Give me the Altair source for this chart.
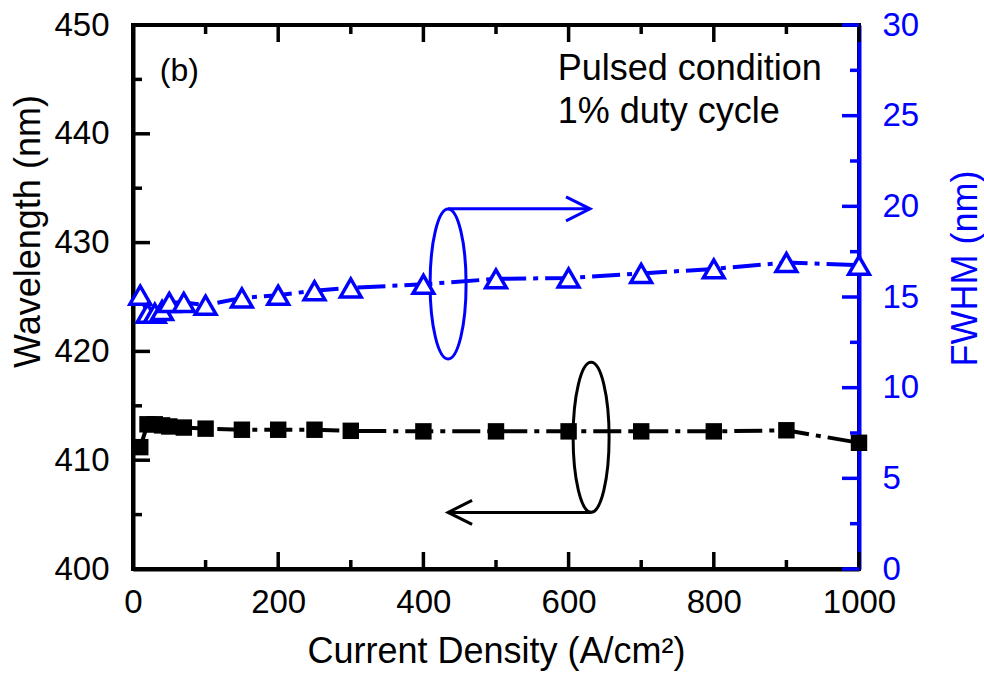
import altair as alt
import pandas as pd

# ---------------- data ----------------
current = [10, 20, 30, 40, 50, 70, 100, 150, 200, 250, 300, 400, 500, 600, 700, 800, 900, 1000]
wavelength = [411.2, 413.3, 413.3, 413.2, 413.1, 413.0, 412.9, 412.8, 412.8, 412.8, 412.7,
              412.65, 412.65, 412.65, 412.65, 412.65, 412.75, 411.6]
fwhm = [15.1, 14.1, 14.1, 14.25, 14.7, 14.7, 14.55, 14.95, 15.1, 15.35, 15.5,
        15.7, 16.0, 16.05, 16.3, 16.55, 16.9, 16.75]

x_major = [0, 200, 400, 600, 800, 1000]
x_minor = [100, 300, 500, 700, 900]
wl_major = [400, 410, 420, 430, 440, 450]
wl_minor = [405, 415, 425, 435, 445]
fw_major = [0, 5, 10, 15, 20, 25, 30]
fw_minor = [2.5, 7.5, 12.5, 17.5, 22.5, 27.5]

note_text = ["(b)", "Pulsed condition", "1% duty cycle"]
note_x = [37, 585, 585]
note_y = [444.85, 444.95, 441.0]
note_size = [32, 36, 36]

ellipse_x = [434, 631]
ellipse_y = [426.2, 412.1]
ellipse_color = ["#0000ff", "#000000"]

arrow_x = [434, 631]
arrow_x2 = [629.5, 434]
arrow_y = [433.1, 405.2]
arrow_color = ["#0000ff", "#000000"]

# ---------------- layout ----------------
W, H = 726, 544
BLUE = "#0000ff"
FONT = "Liberation Sans"
LBL = 33
TTL = 36

xs = alt.Scale(domain=[0, 1000], nice=False, zero=False)
ls = alt.Scale(domain=[400, 450], nice=False, zero=False)
rs = alt.Scale(domain=[0, 30], nice=False, zero=False)

main = pd.DataFrame({"j": current, "wl": wavelength, "fw": fwhm})

x_axis = alt.Axis(title="Current Density (A/cm²)", values=x_major, ticks=False, format="d",
                  domainColor="black", domainWidth=4, labelFontSize=LBL, labelColor="black",
                  labelPadding=17, titleFontSize=TTL, titleFontWeight="normal", titleColor="black",
                  titleX=W / 2, titleY=93, titleBaseline="alphabetic", titleAlign="center",
                  labelFlush=False, grid=False, labelFont=FONT, titleFont=FONT)
left_axis = alt.Axis(title="Wavelength (nm)", values=wl_major, ticks=False, orient="left",
                     domainColor="black", domainWidth=4, labelFontSize=LBL, labelColor="black",
                     labelPadding=24, titleFontSize=TTL, titleFontWeight="normal", titleColor="black",
                     titleAngle=-90, titleX=-94, titleY=206, titleBaseline="alphabetic",
                     titleAlign="center", grid=False, labelFont=FONT, titleFont=FONT)
right_axis = alt.Axis(title="FWHM (nm)", values=fw_major, ticks=False, orient="right",
                      domainColor=BLUE, domainWidth=4, labelFontSize=LBL, labelColor=BLUE,
                      labelPadding=23, titleFontSize=TTL, titleFontWeight="normal", titleColor=BLUE,
                      titleAngle=-90, titleX=117, titleY=243, titleBaseline="alphabetic",
                      titleAlign="center", grid=False, labelFont=FONT, titleFont=FONT)

base = alt.Chart(main)

black_line = base.mark_line(color="black", strokeWidth=4, strokeDash=[28, 7, 5, 7]).encode(
    x=alt.X("j:Q", scale=xs, axis=x_axis),
    y=alt.Y("wl:Q", scale=ls, axis=left_axis),
)
black_pts = base.mark_point(shape="square", filled=True, color="black", size=270, opacity=1).encode(
    x=alt.X("j:Q", scale=xs, axis=x_axis),
    y=alt.Y("wl:Q", scale=ls, axis=left_axis),
)

blue_line = base.mark_line(color=BLUE, strokeWidth=4, strokeDash=[28, 7, 5, 7]).encode(
    x=alt.X("j:Q", scale=xs, axis=x_axis),
    y=alt.Y("fw:Q", scale=rs, axis=right_axis),
)
blue_pts = base.mark_point(shape="triangle-up", filled=True, fill="white", stroke=BLUE,
                           strokeWidth=3.5, size=430, opacity=1).encode(
    x=alt.X("j:Q", scale=xs, axis=x_axis),
    y=alt.Y("fw:Q", scale=rs, axis=right_axis),
)


def yticks(vals, scale, axis, length, side, color):
    df = pd.DataFrame({"v": vals})
    if side == "left":
        xe, x2e = alt.value(0), alt.value(length)
    else:
        xe, x2e = alt.value(W), alt.value(W - length)
    return alt.Chart(df).mark_rule(color=color, strokeWidth=3.5).encode(
        y=alt.Y("v:Q", scale=scale, axis=axis), x=xe, x2=x2e)


def xticks(vals, length, side):
    df = pd.DataFrame({"v": vals})
    if side == "bottom":
        ye, y2e = alt.value(H), alt.value(H - length)
    else:
        ye, y2e = alt.value(0), alt.value(length)
    return alt.Chart(df).mark_rule(color="black", strokeWidth=3.5).encode(
        x=alt.X("v:Q", scale=xs, axis=x_axis), y=ye, y2=y2e)


notes = pd.DataFrame({"t": note_text, "x": note_x, "y": note_y, "s": note_size})
note_layer = alt.Chart(notes).mark_text(font=FONT, align="left", baseline="alphabetic",
                                        color="black").encode(
    x=alt.X("x:Q", scale=xs, axis=x_axis),
    y=alt.Y("y:Q", scale=ls, axis=left_axis),
    text="t:N",
    size=alt.Size("s:Q", scale=None),
)

k = 0.5523
a = 0.24
ELLIPSE = (f"M 0 -1 C {k*a:.4f} -1 {a} -{k} {a} 0 C {a} {k} {k*a:.4f} 1 0 1 "
           f"C -{k*a:.4f} 1 -{a} {k} -{a} 0 C -{a} -{k} -{k*a:.4f} -1 0 -1 Z")
ell = pd.DataFrame({"x": ellipse_x, "y": ellipse_y, "c": ellipse_color})
ellipse_layer = alt.Chart(ell).mark_point(shape=ELLIPSE, size=22500, filled=False,
                                          strokeWidth=3, opacity=1).encode(
    x=alt.X("x:Q", scale=xs, axis=x_axis),
    y=alt.Y("y:Q", scale=ls, axis=left_axis),
    color=alt.Color("c:N", scale=None),
)

arr = pd.DataFrame({"x": arrow_x, "x2": arrow_x2, "y": arrow_y, "c": arrow_color})
arrow_layer = alt.Chart(arr).mark_rule(strokeWidth=3).encode(
    x=alt.X("x:Q", scale=xs, axis=x_axis),
    x2="x2:Q",
    y=alt.Y("y:Q", scale=ls, axis=left_axis),
    color=alt.Color("c:N", scale=None),
)
head_right = alt.Chart(arr.iloc[[0]]).mark_point(shape="M -2 -1 L 0 0 L -2 1", size=576,
                                                 filled=False, strokeWidth=3, color=BLUE,
                                                 opacity=1).encode(
    x=alt.X("x2:Q", scale=xs, axis=x_axis),
    y=alt.Y("y:Q", scale=ls, axis=left_axis),
)
head_left = alt.Chart(arr.iloc[[1]]).mark_point(shape="M 2 -1 L 0 0 L 2 1", size=576,
                                                filled=False, strokeWidth=3, color="black",
                                                opacity=1).encode(
    x=alt.X("x2:Q", scale=xs, axis=x_axis),
    y=alt.Y("y:Q", scale=ls, axis=left_axis),
)

left_group = alt.layer(
    black_line,
    yticks(wl_major, ls, left_axis, 17, "left", "black"),
    yticks(wl_minor, ls, left_axis, 9, "left", "black"),
    xticks(x_major, 17, "bottom"),
    xticks(x_minor, 9, "bottom"),
    xticks(x_major, 17, "top"),
    xticks(x_minor, 9, "top"),
    ellipse_layer,
    arrow_layer,
    head_right,
    head_left,
    note_layer,
    black_pts,
)

right_group = alt.layer(
    blue_line,
    yticks(fw_major, rs, right_axis, 17, "right", BLUE),
    yticks(fw_minor, rs, right_axis, 9, "right", BLUE),
    blue_pts,
)

chart = alt.layer(left_group, right_group).resolve_scale(y="independent").properties(
    width=W, height=H,
    autosize=alt.AutoSizeParams(type="none"),
    padding={"left": 133, "top": 25, "right": 984 - 133 - W, "bottom": 673 - 25 - H},
    background="white",
).configure_view(stroke="black", strokeWidth=4).configure_axis(
    labelFont=FONT, titleFont=FONT, grid=False
)

chart.save("out.html", embed_options={"renderer": "svg", "actions": False})
